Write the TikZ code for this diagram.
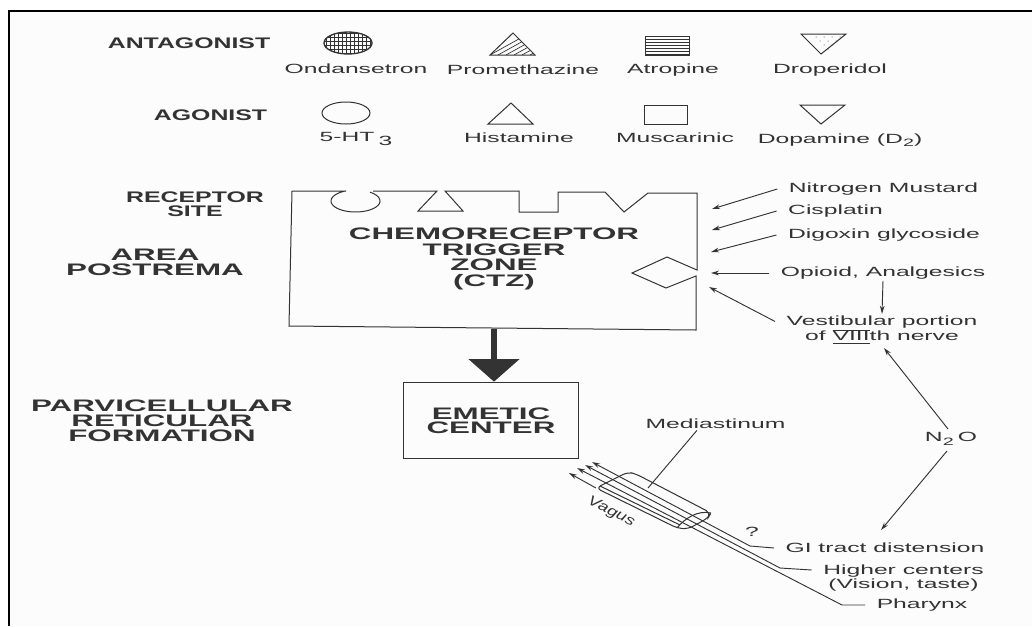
\documentclass[tikz,border=0pt]{standalone}
\usepackage{fontspec}
\setmainfont{Liberation Sans}
\usetikzlibrary{arrows.meta}
\definecolor{ink}{gray}{0.2}
\newcommand{\lowtwo}{\raisebox{-2.5pt}{\footnotesize 2}}
\tikzset{
  head/.style={inner sep=0pt,xscale=1.62,text=ink,align=center,font=\bfseries\fontsize{11.5}{10.5}\selectfont},
  bighead/.style={inner sep=0pt,xscale=1.88,text=ink,align=center,font=\bfseries\fontsize{12.5}{#1}\selectfont},
  drug/.style={inner xsep=4.5pt,inner ysep=1pt,xscale=1.85,text=ink,align=center,font=\fontsize{10}{10}\selectfont},
  link/.style={->,ink,line width=0.7pt},
  wire/.style={ink,line width=0.7pt},
  sym/.style={ink,line width=0.75pt}
}
\begin{document}
\begin{tikzpicture}[x=0.75pt,y=-0.75pt,>={Stealth[length=6pt,width=3.5pt]}]
  \useasboundingbox (0,0) rectangle (1032,626);
  \fill[white] (0,0) rectangle (1032,626);
  \fill[black!1] (9,11) rectangle (1032,626);
  \draw[black,line width=1.9pt] (9,626) -- (9,11) -- (1032,11);
  % legend
  \node[head] (antagonist) at (189,43) {ANTAGONIST};
  \node[head] (agonist) at (210.5,115) {AGONIST};
  \node[drug] (ondansetron) at (356,69) {Ondansetron};
  \node[drug] (promethazine) at (523,70) {Promethazine};
  \node[drug] (atropine) at (673,70) {Atropine};
  \node[drug] (droperidol) at (830,70) {Droperidol};
  \node[drug] (ht) at (356,139) {5-HT\,\raisebox{-3pt}{3}};
  \node[drug] (histamine) at (519,138) {Histamine};
  \node[drug] (muscarinic) at (675,138) {Muscarinic};
  \node[drug] (dopamine) at (840,140) {Dopamine (D\lowtwo)};
  \begin{scope}
    \clip (348,43) ellipse (24 and 11);
    \foreach \x in {326,330,...,372} \draw[sym,line width=0.6pt] (\x,30) -- (\x,56);
    \foreach \y in {33,37,...,55} \draw[sym,line width=0.6pt] (320,\y) -- (376,\y);
  \end{scope}
  \draw[sym,line width=1pt] (348,43) ellipse (24 and 11);
  \coordinate (P) at (513,33);
  \coordinate (Q) at (490,55);
  \coordinate (R) at (535,55);
  \begin{scope}
    \clip (P) -- (Q) -- (R) -- cycle;
    \foreach \x in {490,498,...,530} \draw[sym,line width=0.5pt] (\x,55) -- (\x+36,35);
  \end{scope}
  \draw[sym] (P) -- (Q) -- (R) -- cycle;
  \foreach \y in {39,42,...,54} \draw[sym,line width=0.5pt] (645,\y) -- (689,\y);
  \draw[sym] (645,36) rectangle (689,55);
  \foreach \x/\y in {816/37,824/37,832/37,840/37,820/41,828/41,836/41,824/45,832/45,828/49}
    \fill[ink] (\x,\y) circle (0.5);
  \draw[sym] (801,34) -- (846,34) -- (821,54) -- cycle;
  \draw[sym] (346,113) ellipse (24 and 11);
  \draw[sym] (511,103) -- (488,124) -- (533,124) -- cycle;
  \draw[sym] (644,105) rectangle (687,124);
  \draw[sym] (800,105) -- (845,105) -- (821,124) -- cycle;
  % left labels
  \node[head] (receptor) at (195,204) {RECEPTOR\\SITE};
  \node[bighead=11.2] (area) at (155,262.5) {AREA\\POSTREMA};
  \node[bighead=11.2] (parvi) at (162,421) {PARVICELLULAR\\RETICULAR\\FORMATION};
  % trigger zone
  \draw[sym] (292,191) -- (346,191)
    plot[domain=247:-54,samples=40] ({355.5+24.5*cos(\x)},{201+11*sin(\x)})
    (373,191) -- (437,191) -- (418,211) -- (463,211) -- (445,191)
    -- (519,191) -- (519,212) -- (558,212) -- (558,192)
    -- (605,192) -- (624,212) -- (648,193) -- (697,193)
    -- (697,270) -- (667,257) -- (632,273) -- (666,288) -- (696,276)
    -- (696,330) -- (289,326) -- (292,191);
  \node[bighead=11.7] (ctz) at (494,259) {CHEMORECEPTOR\\TRIGGER\\ZONE\\(CTZ)};
  \node[bighead=10.5,draw=ink,line width=0.75pt,minimum width=70.2pt,minimum height=57.5pt] (emetic) at (491,420.5) {EMETIC\\CENTER};
  \coordinate (ctzfoot) at (494,329);
  \draw[-{Triangle[width=37.5pt,length=17pt]},ink,line width=5pt] (ctzfoot) -- (ctzfoot |- emetic.north);
  % agents
  \node[drug] (nitrogen) at (883.5,189) {Nitrogen Mustard};
  \node[drug] (cisplatin) at (835.5,211) {Cisplatin};
  \node[drug] (digoxin) at (884,235) {Digoxin glycoside};
  \node[drug] (opioid) at (883,273) {Opioid, Analgesics};
  \node[drug] (vestibular) at (882,329.5) {Vestibular portion\\of $\overline{\underline{\mbox{VIII}}}$th nerve};
  \node[drug] (nitrous) at (951,439) {N\lowtwo\,O};
  \node[drug] (gi) at (885,548) {GI tract distension};
  \node[drug] (higher) at (903.5,578) {Higher centers\\(Vision, taste)};
  \node[drug] (pharynx) at (922,605) {Pharynx};
  \node[drug] (mediastinum) at (715.5,424) {Mediastinum};
  \node[inner sep=0pt,text=ink,rotate=-27,xscale=1.3,font=\itshape\fontsize{10.5}{10.5}\selectfont] (vagus) at (611,512) {Vagus};
  \node[drug] (query) at (752,532) {?};
  \coordinate (a1) at (712,209);
  \coordinate (a2) at (712,230);
  \coordinate (a3) at (711,252);
  \coordinate (a4) at (711,273);
  \coordinate (a5) at (709,287);
  \foreach \p/\q in {nitrogen/a1,cisplatin/a2,digoxin/a3,opioid/a4}
    \draw[link] (\p.west) -- (\q);
  \draw[link] ([yshift=6pt]vestibular.west) -- (a5);
  \draw[link] (opioid.south) -- (vestibular.north);
  \coordinate (b1) at (884,348);
  \coordinate (b2) at (881,530);
  \coordinate (b3) at (948,429);
  \coordinate (b4) at (947,451);
  \draw[link] (b3) -- (b1);
  \draw[link] (b4) -- (b2);
  % vagus bundle
  \coordinate (t1) at (592,462);
  \coordinate (t2) at (585,465);
  \coordinate (t3) at (577,468);
  \coordinate (t4) at (569,473);
  \coordinate (c1) at (750,546);
  \coordinate (c2) at (780,568);
  \coordinate (c3) at (842,605);
  \draw[wire,<-] (t1) -- (c1) -- (gi.west);
  \draw[wire,<-] (t2) -- (c2) -- (higher.west |- 570,570);
  \draw[wire,<-] (t3) -- (c3) -- (pharynx.west);
  \draw[wire,<-] (t4) -- (596,488);
  \draw[sym,rounded corners=4pt] (596,488) -- (628,472) -- (636,474) -- (711,513)
    -- (708,518) -- (688,529) -- (677,528) -- cycle;
  \draw[sym] (600,486) -- (680,525);
  \draw[sym] (711,513) .. controls (698,510) and (685,518) .. (677,528);
  \coordinate (m1) at (648,488);
  \draw[wire] ([xshift=-14pt]mediastinum.south) -- (m1);
\end{tikzpicture}
\end{document}
